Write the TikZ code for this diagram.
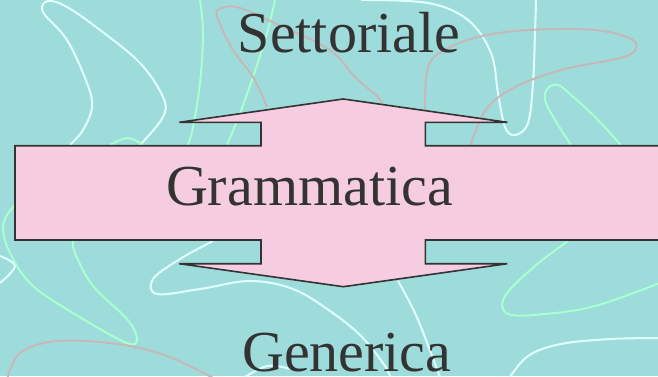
\documentclass[tikz,border=0pt]{standalone}
\usepackage{fontspec}
\setmainfont{Liberation Serif}
\definecolor{bgTeal}{RGB}{158,220,219}
\definecolor{blobWhite}{RGB}{226,255,255}
\definecolor{blobGreen}{RGB}{170,255,206}
\definecolor{blobGrey}{RGB}{198,184,184}
\definecolor{arrPink}{RGB}{246,205,224}
\definecolor{inkGrey}{RGB}{51,51,51}
\usetikzlibrary{positioning}

\begin{document}
\begin{tikzpicture}[x=1pt, y=-1pt,
  blob/.style={line width=2pt, smooth, tension=0.6},
  word/.style={font=\fontsize{58}{62}\selectfont, text=inkGrey, inner sep=0pt, anchor=base},
  shaft/.style={draw=inkGrey, line width=1.6pt, fill=arrPink}
]
  \clip (0,0) rectangle (658,376);
  \fill[bgTeal] (0,0) rectangle (658,376);

  % background scribbles
  \draw[blob, blobWhite] plot coordinates {(70,145) (83,130) (92,107) (87,83) (67,40) (43,12) (48,1)
    (67,7) (100,30) (140,63) (163,97) (163,117) (140,145)};
  \draw[blob, blobWhite] plot coordinates {(361,0) (428,3) (468,20) (491,53) (498,93) (505,127)
    (515,135) (528,123) (533,83) (535,33) (536,0)};
  \draw[blob, blobWhite] plot coordinates {(213,241) (180,259) (153,279) (157,294) (200,289) (250,281)
    (293,289) (330,311) (361,336) (385,366) (391,380)};
  \draw[blob, blobWhite] plot coordinates {(398,281) (415,313) (431,353) (441,380)};
  \draw[blob, blobWhite] plot coordinates {(508,380) (528,356) (561,344) (611,339) (660,338)};
  \draw[blob, blobWhite] plot coordinates {(0,256) (15,266) (0,283)};
  \draw[blob, blobWhite] plot coordinates {(240,380) (267,366) (290,369)};

  \draw[blob, blobGreen] plot coordinates {(200,0) (203,33) (200,83) (193,127) (188,145)};
  \draw[blob, blobGreen] plot coordinates {(275,0) (267,33) (253,77) (240,113) (227,145)};
  \draw[blob, blobGreen] plot coordinates {(110,145) (128,138) (143,145)};
  \draw[blob, blobGreen] plot coordinates {(571,145) (555,120) (545,100) (548,88) (558,85) (570,94)
    (595,117) (621,145)};
  \draw[blob, blobGreen] plot coordinates {(16,204) (7,215) (3,229) (10,253) (33,286) (83,319)
    (127,343) (137,339) (127,319) (93,286) (75,253) (73,241)};
  \draw[blob, blobGreen] plot coordinates {(568,241) (535,266) (505,296) (508,314) (545,314)
    (595,306) (660,283)};

  \draw[blob, blobGrey] plot coordinates {(267,107) (253,77) (233,50) (217,16) (222,8) (240,8)
    (283,27) (330,50) (355,77) (378,97) (382,104)};
  \draw[blob, blobGrey] plot coordinates {(425,112) (428,67) (445,50) (478,37) (528,30) (595,30)
    (633,40) (633,53) (611,60) (561,70) (515,87) (488,107) (475,133) (471,145)};
  \draw[blob, blobGrey] plot coordinates {(7,380) (20,353) (57,341) (117,344) (167,356) (217,380)};

  % arrow shape
  \draw[shaft] (15,145.7) -- (261,145.7) -- (261,122.3) -- (179.3,122.3) -- (343.3,99)
    -- (507.3,122.3) -- (425.3,122.3) -- (425.3,145.7) -- (680,145.7) -- (680,240)
    -- (425.3,240) -- (425.3,263.7) -- (507.3,263.7) -- (343.3,286.7) -- (179.3,263.7)
    -- (261,263.7) -- (261,240) -- (15,240) -- cycle;

  \node[word] (settoriale) at (349,52) {Settoriale};
  \node[word] (grammatica) at (309.4,205) {Grammatica};
  \node[word] (generica) at (346.8,371) {Generica};
\end{tikzpicture}
\end{document}
